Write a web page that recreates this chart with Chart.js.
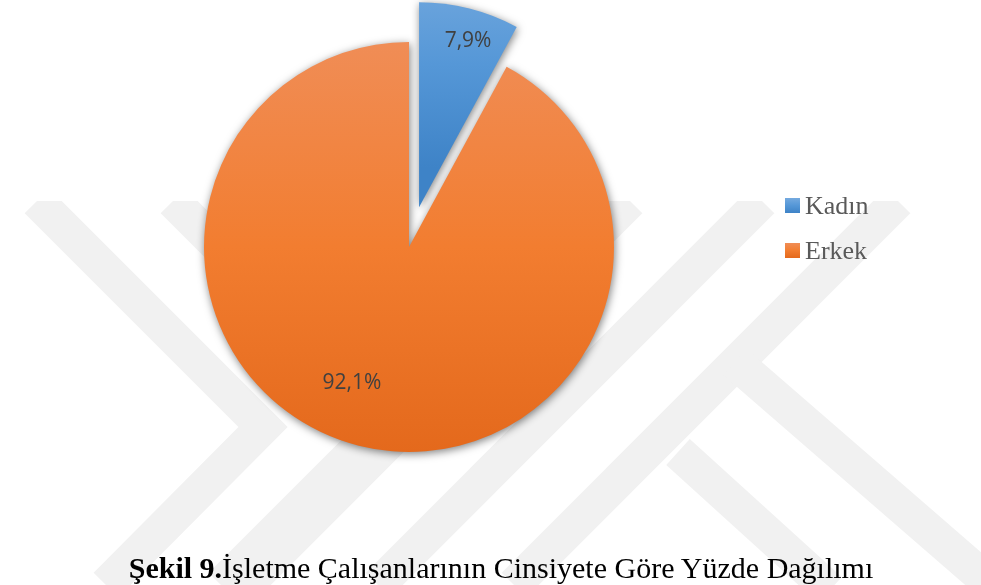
<!DOCTYPE html>
<html lang="tr">
<head>
<meta charset="utf-8">
<title>Şekil 9</title>
<script src="https://cdn.jsdelivr.net/npm/chart.js@4.4.1/dist/chart.umd.min.js"></script>
<style>
  html, body { margin: 0; padding: 0; background: #fff; }
  #wrap { position: relative; width: 981px; height: 585px; overflow: hidden; }
  #chart { position: absolute; left: 0; top: 0; }
  #caption {
    position: absolute; left: 0; top: 553px; width: 1002px;
    text-align: center; white-space: nowrap; color: #000;
    font-family: 'Liberation Serif', 'Times New Roman', serif;
    font-size: 30px; line-height: 30px;
  }
</style>
</head>
<body>
<div id="wrap">
  <canvas id="chart" width="981" height="585"></canvas>
  <div id="caption"><b>Şekil 9.</b>İşletme Çalışanlarının Cinsiyete Göre Yüzde Dağılımı</div>
</div>
<script>
// --- veriler ---
const categories = ['Kadın', 'Erkek'];
const percentages = [7.9, 92.1];

// --- görünüm ---
const PIE_RADIUS = 205;
const EXPLODE = [41, 0];
const SOLID = ['#5b9bd5', '#ed7d31'];
const GRADIENTS = [
  ['#75aadf', '#5597d7', '#3e83c7'],
  ['#f08d56', '#f27d30', '#e4691c']
];
const LABEL_RADIUS = [0.845, 0.72];
const LABEL_SHIFT = [2.2, 8.5]; // derece
const WATERMARK = [
  [[37, 201], [263, 427], [106, 585]],
  [[173, 201], [389, 417], [221, 585]],
  [[630, 201], [246, 585]],
  [[762, 201], [378, 585]],
  [[898, 201], [514, 585]],
  [[735, 362], [1000, 592]],
  [[678, 452], [830, 590]]
];

function sliceGeometry(chart, i) {
  const area = chart.chartArea;
  const cx = (area.left + area.right) / 2;
  const cy = (area.top + area.bottom) / 2;
  const values = chart.data.datasets[0].data;
  const total = values.reduce((s, v) => s + v, 0);
  let start = -Math.PI / 2;
  for (let k = 0; k < i; k++) start += values[k] / total * 2 * Math.PI;
  const end = start + values[i] / total * 2 * Math.PI;
  const mid = (start + end) / 2;
  const push = EXPLODE[i] || 0;
  return { cx: cx + Math.cos(mid) * push, cy: cy + Math.sin(mid) * push, start, end };
}

function fillGradient(ctx2d, top, bottom, stops) {
  const grad = ctx2d.createLinearGradient(0, top, 0, bottom);
  stops.forEach((c, k) => grad.addColorStop(k / (stops.length - 1), c));
  return grad;
}

function sliceFill(ctx) {
  const chart = ctx.chart;
  const i = ctx.dataIndex;
  if (!chart.chartArea) return SOLID[i];
  const g = sliceGeometry(chart, i);
  let top = g.cy, bottom = g.cy;
  for (let t = 0; t <= 48; t++) {
    const a = g.start + (g.end - g.start) * t / 48;
    const y = g.cy + Math.sin(a) * PIE_RADIUS;
    top = Math.min(top, y);
    bottom = Math.max(bottom, y);
  }
  return fillGradient(chart.ctx, top, bottom, GRADIENTS[i]);
}

// arka plandaki soluk filigran
const watermarkPlugin = {
  id: 'watermark',
  beforeDraw(chart) {
    const ctx = chart.ctx;
    ctx.save();
    ctx.beginPath();
    ctx.rect(0, 201, chart.width, chart.height - 201);
    ctx.clip();
    ctx.strokeStyle = '#f1f1f1';
    ctx.lineWidth = 35;
    ctx.lineJoin = 'miter';
    ctx.lineCap = 'butt';
    WATERMARK.forEach(path => {
      ctx.beginPath();
      path.forEach(([x, y], k) => k ? ctx.lineTo(x, y) : ctx.moveTo(x, y));
      ctx.stroke();
    });
    ctx.restore();
  }
};

// dilimi dışarı çek (yarıçapı değiştirmeden)
const explodePlugin = {
  id: 'explode',
  afterDatasetUpdate(chart, args) {
    args.meta.data.forEach((arc, i) => {
      const push = EXPLODE[i] || 0;
      const mid = (arc.startAngle + arc.endAngle) / 2;
      arc.$shift = { dx: Math.cos(mid) * push, dy: Math.sin(mid) * push };
      if (!push) return;
      const shift = arc.$shift;
      arc.draw = function (ctx, area) {
        ctx.save();
        ctx.translate(shift.dx, shift.dy);
        Chart.ArcElement.prototype.draw.call(this, ctx, area);
        ctx.restore();
      };
    });
  }
};

const shadowPlugin = {
  id: 'softShadow',
  beforeDatasetsDraw(chart) {
    const ctx = chart.ctx;
    ctx.save();
    ctx.shadowColor = 'rgba(0, 0, 0, 0.5)';
    ctx.shadowBlur = 8;
    ctx.shadowOffsetX = 1;
    ctx.shadowOffsetY = 2;
  },
  afterDatasetsDraw(chart) {
    chart.ctx.restore();
  }
};

const valueLabelPlugin = {
  id: 'valueLabels',
  afterDatasetsDraw(chart) {
    const ctx = chart.ctx;
    const meta = chart.getDatasetMeta(0);
    ctx.save();
    ctx.font = '21px "Open Sans", "Liberation Sans", sans-serif';
    ctx.fillStyle = '#404040';
    ctx.textAlign = 'center';
    ctx.textBaseline = 'middle';
    meta.data.forEach((arc, i) => {
      const s = arc.$shift || { dx: 0, dy: 0 };
      const a = (arc.startAngle + arc.endAngle) / 2 + LABEL_SHIFT[i] * Math.PI / 180;
      const r = arc.outerRadius * LABEL_RADIUS[i];
      const v = chart.data.datasets[0].data[i];
      const text = v.toFixed(1).replace('.', ',') + '%';
      ctx.fillText(text, arc.x + s.dx + Math.cos(a) * r, arc.y + s.dy + Math.sin(a) * r);
    });
    ctx.restore();
  }
};

const sideLegendPlugin = {
  id: 'sideLegend',
  afterDraw(chart) {
    const ctx = chart.ctx;
    ctx.save();
    ctx.font = '26px "Liberation Serif", "Times New Roman", serif';
    ctx.textBaseline = 'alphabetic';
    ctx.textAlign = 'left';
    chart.data.labels.forEach((label, i) => {
      const top = 198 + i * 45;
      ctx.fillStyle = fillGradient(ctx, top, top + 15, GRADIENTS[i]);
      ctx.fillRect(785, top, 15, 15);
      ctx.fillStyle = '#595959';
      ctx.fillText(label, 805, top + 16);
    });
    ctx.restore();
  }
};

new Chart(document.getElementById('chart'), {
  type: 'pie',
  data: {
    labels: categories,
    datasets: [{
      data: percentages,
      backgroundColor: sliceFill,
      borderWidth: 0,
      radius: PIE_RADIUS,
      clip: false
    }]
  },
  options: {
    responsive: false,
    animation: false,
    events: [],
    layout: { padding: { left: 0, right: 163, top: 0, bottom: 91 } },
    plugins: {
      legend: { display: false },
      tooltip: { enabled: false },
      title: { display: false }
    }
  },
  plugins: [watermarkPlugin, explodePlugin, shadowPlugin, valueLabelPlugin, sideLegendPlugin]
});
</script>
</body>
</html>
